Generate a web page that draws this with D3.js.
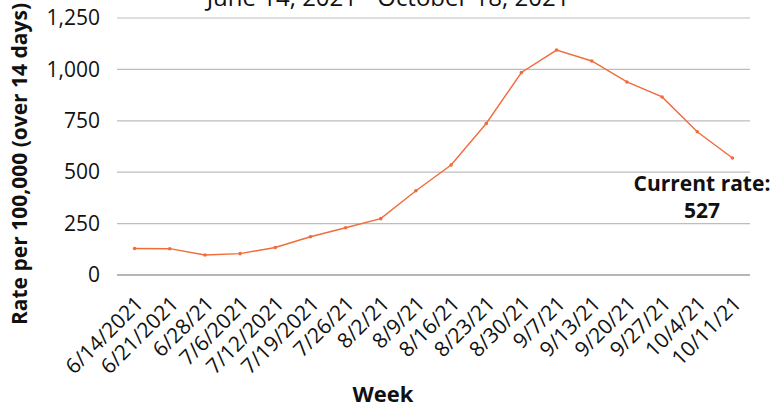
<!DOCTYPE html>
<html>
<head>
<meta charset="utf-8">
<script src="https://cdn.jsdelivr.net/npm/d3@7"></script>
<style>
  body { margin: 0; background: #fff; }
  svg { display: block; font-family: "Open Sans", sans-serif; }
</style>
</head>
<body>
<svg id="chart" width="773" height="408"></svg>
<script>
// weekly rates
var weeks = ["6/14/2021", "6/21/2021", "6/28/21", "7/6/2021", "7/12/2021", "7/19/2021",
  "7/26/21", "8/2/21", "8/9/21", "8/16/21", "8/23/21", "8/30/21", "9/7/21", "9/13/21",
  "9/20/21", "9/27/21", "10/4/21", "10/11/21"];
var rates = [129, 128, 97, 104, 134, 186, 230, 274, 410, 535, 737, 985, 1094, 1041, 939, 866, 697, 569];
var yTicks = [0, 250, 500, 750, 1000, 1250];
var subtitle = "June 14, 2021 - October 18, 2021";
var noteLines = ["Current rate:", "527"];

var margin = {top: 18, right: 23, bottom: 133, left: 117},
    width = 773 - margin.left - margin.right,
    height = 408 - margin.top - margin.bottom;

var svg = d3.select("#chart");
var g = svg.append("g")
    .attr("transform", "translate(" + margin.left + "," + margin.top + ")");

var x = d3.scaleBand().domain(weeks).range([0, width]);
var y = d3.scaleLinear().domain([0, 1250]).range([height, 0]);

// gridlines
g.selectAll(".grid")
    .data(yTicks)
    .enter().append("line")
    .attr("x1", 0)
    .attr("x2", width)
    .attr("y1", function(d) { return y(d); })
    .attr("y2", function(d) { return y(d); })
    .attr("stroke", function(d) { return d === 0 ? "#6e6e6e" : "#bdbdbd"; })
    .attr("stroke-width", 1.2);

// y axis labels
var yAxis = d3.axisLeft(y)
    .tickValues(yTicks)
    .tickSize(0)
    .tickPadding(17)
    .tickFormat(d3.format(","));
g.append("g").call(yAxis)
    .call(function(s) { s.select(".domain").remove(); })
    .selectAll("text")
    .attr("font-size", 21)
    .attr("font-family", "Open Sans")
    .attr("fill", "#111");

// x axis labels, rotated
var xAxis = d3.axisBottom(x).tickSize(0).tickPadding(0);
g.append("g")
    .attr("transform", "translate(0," + height + ")")
    .call(xAxis)
    .call(function(s) { s.select(".domain").remove(); })
    .selectAll("text")
    .attr("font-size", 21)
    .attr("font-family", "Open Sans")
    .attr("fill", "#111")
    .attr("text-anchor", "end")
    .attr("dy", "0")
    .attr("transform", "translate(10,30) rotate(-45)");

var line = d3.line()
    .x(function(d, i) { return x(weeks[i]) + x.bandwidth() / 2; })
    .y(function(d) { return y(d); });

g.append("path")
    .datum(rates)
    .attr("fill", "none")
    .attr("stroke", "#f26b3a")
    .attr("stroke-width", 1.4)
    .attr("d", line);

g.selectAll(".dot")
    .data(rates)
    .enter().append("circle")
    .attr("cx", function(d, i) { return x(weeks[i]) + x.bandwidth() / 2; })
    .attr("cy", function(d) { return y(d); })
    .attr("r", 1.8)
    .attr("fill", "#f26b3a");

// annotation
svg.append("text")
    .attr("x", 702)
    .attr("text-anchor", "middle")
    .attr("font-size", 21)
    .attr("font-weight", "bold")
    .attr("fill", "#111")
    .selectAll("tspan")
    .data(noteLines)
    .enter().append("tspan")
    .attr("x", 702)
    .attr("y", function(d, i) { return 191 + i * 27; })
    .text(function(d) { return d; });

// subtitle, cut off at the top
svg.append("text")
    .attr("x", 388)
    .attr("y", 6)
    .attr("text-anchor", "middle")
    .attr("font-size", 24)
    .attr("fill", "#111")
    .text(subtitle);

// axis titles
svg.append("text")
    .attr("transform", "translate(27,164) rotate(-90)")
    .attr("text-anchor", "middle")
    .attr("font-size", 21)
    .attr("font-weight", "bold")
    .attr("fill", "#111")
    .text("Rate per 100,000 (over 14 days)");

svg.append("text")
    .attr("x", 383)
    .attr("y", 402)
    .attr("text-anchor", "middle")
    .attr("font-size", 22)
    .attr("font-weight", "bold")
    .attr("fill", "#111")
    .text("Week");
</script>
</body>
</html>
